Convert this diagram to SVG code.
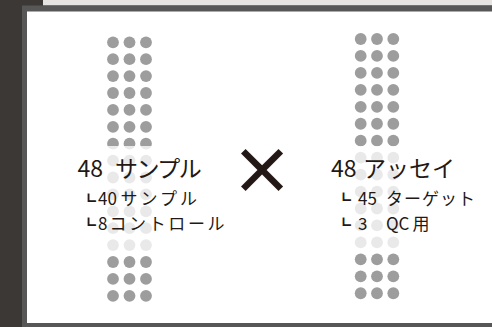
<svg xmlns="http://www.w3.org/2000/svg" xmlns:xlink="http://www.w3.org/1999/xlink" width="492" height="327" viewBox="0 0 492 327">
<style>
.dot{fill:#9d9d9d}
.t{font-family:"Noto Sans CJK JP","Noto Sans",sans-serif;fill:#231815}
.h{font-size:23px}
.s{font-size:17px}
.m{font-size:15px}
</style>
<defs>
<g id="rowL"><circle class="dot" cx="113" cy="0" r="5.9"/><circle class="dot" cx="129.5" cy="0" r="5.9"/><circle class="dot" cx="146" cy="0" r="5.9"/></g>
<g id="rowR"><circle class="dot" cx="360.7" cy="0" r="5.9"/><circle class="dot" cx="377" cy="0" r="5.9"/><circle class="dot" cx="393.3" cy="0" r="5.9"/></g>
</defs>
<g id="frame">
<rect x="0" y="0" width="492" height="327" fill="#3c3836"/>
<rect x="43" y="0" width="449" height="5.5" fill="#e6e4e2"/>
<rect x="22" y="5.5" width="470" height="321.5" fill="#575757"/>
<rect x="27" y="11.5" width="465" height="311.5" fill="#ffffff"/>
</g>
<g id="plate-left">
<use xlink:href="#rowL" y="42.3"/><use xlink:href="#rowL" y="59.2"/><use xlink:href="#rowL" y="76.1"/><use xlink:href="#rowL" y="93"/>
<use xlink:href="#rowL" y="109.9"/><use xlink:href="#rowL" y="126.8"/><use xlink:href="#rowL" y="143.7"/><use xlink:href="#rowL" y="160.6"/>
<use xlink:href="#rowL" y="177.5"/><use xlink:href="#rowL" y="194.4"/><use xlink:href="#rowL" y="211.3"/><use xlink:href="#rowL" y="228.2"/>
<use xlink:href="#rowL" y="245.1"/><use xlink:href="#rowL" y="262"/><use xlink:href="#rowL" y="278.9"/><use xlink:href="#rowL" y="295.8"/>
</g>
<g id="plate-right">
<use xlink:href="#rowR" y="39"/><use xlink:href="#rowR" y="55.95"/><use xlink:href="#rowR" y="72.9"/><use xlink:href="#rowR" y="89.85"/>
<use xlink:href="#rowR" y="106.8"/><use xlink:href="#rowR" y="123.75"/><use xlink:href="#rowR" y="140.7"/><use xlink:href="#rowR" y="157.65"/>
<use xlink:href="#rowR" y="174.6"/><use xlink:href="#rowR" y="191.55"/><use xlink:href="#rowR" y="208.5"/><use xlink:href="#rowR" y="225.45"/>
<use xlink:href="#rowR" y="242.4"/><use xlink:href="#rowR" y="259.35"/><use xlink:href="#rowR" y="276.3"/><use xlink:href="#rowR" y="293.25"/>
</g>
<rect id="veil" x="27" y="146" width="465" height="107" fill="#ffffff" fill-opacity="0.78"/>
<g id="label-left">
<text class="t h" x="77.5" y="176.5">48<tspan x="115" letter-spacing="-1.5">サンプル</tspan></text>
<text class="t m" x="81" y="206.5">┗</text>
<text class="t s" x="98" y="205">40<tspan x="120.5" letter-spacing="3">サンプル</tspan></text>
<text class="t m" x="81" y="231">┗</text>
<text class="t s" x="98" y="229.5">8<tspan x="109.5" letter-spacing="2.6">コントロール</tspan></text>
</g>
<g id="times">
<text class="t" x="262" y="194" font-size="64" font-weight="bold" text-anchor="middle">×</text>
</g>
<g id="label-right">
<text class="t h" x="331" y="176.5">48<tspan x="363">アッセイ</tspan></text>
<text class="t m" x="336" y="205.5">┗</text>
<text class="t s" x="358" y="204.5">45<tspan x="386" letter-spacing="1">ターゲット</tspan></text>
<text class="t m" x="336" y="231">┗</text>
<text class="t s" x="358" y="229.5">3<tspan x="386">QC</tspan><tspan x="412.5">用</tspan></text>
</g>
</svg>
